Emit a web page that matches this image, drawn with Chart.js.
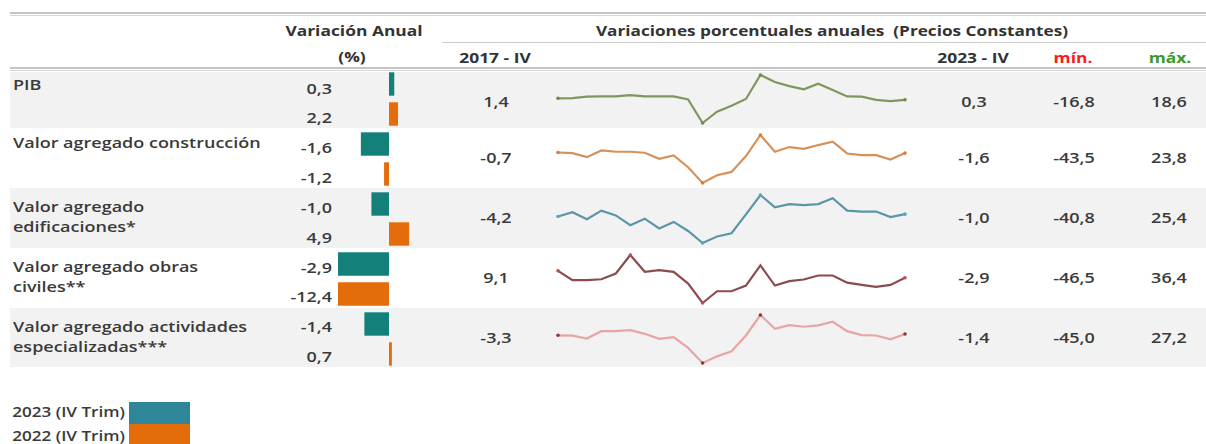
<!DOCTYPE html>
<html lang="es">
<head>
<meta charset="utf-8">
<title>Variaciones porcentuales anuales - construcción</title>
<script src="https://cdn.jsdelivr.net/npm/chart.js@4.4.1/dist/chart.umd.min.js"></script>
<style>
  html, body { margin: 0; padding: 0; background: #fff; }
  #page { position: relative; width: 1206px; height: 444px; overflow: hidden; font-family: "Open Sans", sans-serif; color: #3a3a3a; }
  .band { position: absolute; left: 10px; right: 0; }
  .gray { background: #f2f2f2; }
  .rule { position: absolute; left: 10px; right: 0; height: 1px; border-top: 2px solid #c4c4c4; border-bottom: 1px solid #d8d8d8; }
  .thin { position: absolute; left: 442px; right: 0; height: 0; border-top: 1.5px solid #c8c8c8; }
  .txt { position: absolute; white-space: pre; font-size: 15px; line-height: 20px; font-weight: 600; }
  .head { font-weight: 700; color: #333; }
  .swatch { position: absolute; left: 129px; width: 61px; height: 22px; }
  canvas { position: absolute; }
</style>
</head>
<body>
<div id="page"></div>

<script>
// ============================================================
// DONNÉES
// ============================================================

const categories = [
    "PIB",
    "Valor agregado construcción",
    "Valor agregado\nedificaciones*",
    "Valor agregado obras\nciviles**",
    "Valor agregado actividades\nespecializadas***"
];

// Variación anual (%) - IV trimestre
const var2023 = [0.3, -1.6, -1.0, -2.9, -1.4];
const var2022 = [2.2, -1.2, 4.9, -12.4, 0.7];

const quarters = [
    "2017-IV",
    "2018-I", "2018-II", "2018-III", "2018-IV",
    "2019-I", "2019-II", "2019-III", "2019-IV",
    "2020-I", "2020-II", "2020-III", "2020-IV",
    "2021-I", "2021-II", "2021-III", "2021-IV",
    "2022-I", "2022-II", "2022-III", "2022-IV",
    "2023-I", "2023-II", "2023-III", "2023-IV"
];

// Variaciones porcentuales anuales (precios constantes)
const serPIB = [1.4, 1.5, 2.6, 2.8, 2.8, 3.8, 2.8, 2.8, 2.8, 0.5, -16.8, -8.5, -4.0, 0.9, 18.6, 13.4, 10.4, 8.0, 12.2, 7.5, 2.8, 2.6, 0.3, -0.6, 0.3];
const serConstruccion = [-0.7, -1.6, -7.3, 2.2, 0.3, 0.3, -1.1, -9.6, -4.9, -21.4, -43.5, -32.7, -28.0, -5.8, 23.8, 0.3, 6.9, 4.5, 9.7, 14.4, -2.1, -4.4, -4.4, -10.5, -1.6];
const serEdificaciones = [-4.2, 1.7, -8.1, 3.9, -2.8, -16.2, -7.2, -20.7, -11.7, -24.2, -40.8, -31.8, -27.4, -1.4, 25.4, 8.4, 12.9, 11.5, 12.9, 20.9, 3.9, 2.6, 2.6, -5.0, -1.0];
const serObrasCiviles = [9.1, -7.0, -7.0, -5.5, 4.5, 36.4, 7.4, 10.3, 7.4, -12.9, -46.5, -26.2, -26.2, -16.4, 18.4, -16.4, -8.8, -5.9, 1.0, 1.0, -11.4, -15.2, -18.6, -15.2, -2.9];
const serEspecializadas = [-3.3, -3.8, -8.2, 2.9, 2.9, 4.5, -1.1, -8.7, -6.1, -22.3, -45.0, -35.0, -27.3, -3.6, 27.2, 6.5, 12.0, 9.5, 11.5, 17.1, 2.9, -3.1, -3.6, -9.5, -1.4];

const series = [serPIB, serConstruccion, serEdificaciones, serObrasCiviles, serEspecializadas];

const legendLabels = ["2023 (IV Trim)", "2022 (IV Trim)"];


// ============================================================
// MISE EN PAGE
// ============================================================

const page = document.getElementById("page");
const SX = 1.2;   // la police de l'original est plus large

const rowTops = [72, 128, 188, 248, 308];
const rowBottom = 367;
const sparkTops = [68, 128, 188, 248, 308];
const midY = [101, 157, 217, 277, 337];

const lineColors = ["#80965f", "#d6915a", "#5a96a5", "#8c4b50", "#e8a5a5"];
const markColors = ["#6f8a4c", "#e07a2e", "#4bacc6", "#c0504d", "#8b3a3a"];

const fmt = v => v.toFixed(1).replace(".", ",");

function addBox(cls, top, height) {
    const d = document.createElement("div");
    d.className = cls;
    d.style.top = top + "px";
    if (height !== undefined) d.style.height = height + "px";
    page.appendChild(d);
    return d;
}

function addText(txt, x, y, align, cls, color, sx) {
    const k = sx || SX;
    const d = document.createElement("div");
    d.className = "txt" + (cls ? " " + cls : "");
    d.textContent = txt;
    d.style.left = x + "px";
    d.style.top = (y - 10.5) + "px";
    if (align === "left") {
        d.style.transformOrigin = "left center";
        d.style.transform = `scaleX(${k})`;
    } else if (align === "right") {
        d.style.transformOrigin = "right center";
        d.style.transform = `translateX(-100%) scaleX(${k})`;
    } else {
        d.style.transformOrigin = "center center";
        d.style.transform = `translateX(-50%) scaleX(${k})`;
    }
    if (color) d.style.color = color;
    page.appendChild(d);
}

// bandes grises
rowTops.forEach((top, i) => {
    if (i % 2 === 0) {
        const bottom = i + 1 < rowTops.length ? rowTops[i + 1] : rowBottom;
        addBox("band gray", top, bottom - top);
    }
});

// filets
addBox("rule", 12);
addBox("rule", 67);
addBox("thin", 41.5);

// en-têtes
addText("Variación Anual", 354, 30, "center", "head", null, 1.16);
addText("(%)", 352, 56, "center", "head", null, 1.16);
addText("Variaciones porcentuales anuales  (Precios Constantes)", 832, 30, "center", "head", null, 1.145);
addText("2017 - IV", 495, 57, "center", "head", null, 1.16);
addText("2023 - IV", 973, 57, "center", "head", null, 1.16);
addText("mín.", 1073, 57, "center", "head", "#ff1a1a", 1.16);
addText("máx.", 1170, 57, "center", "head", "#3a9a2a", 1.16);

// libellés et valeurs
categories.forEach((cat, i) => {
    const lines = cat.split("\n");
    if (lines.length === 1) {
        addText(lines[0], 13, i === 0 ? 84 : rowTops[i] + 14, "left");
    } else {
        addText(lines[0], 13, rowTops[i] + 18.4, "left");
        addText(lines[1], 13, rowTops[i] + 38, "left");
    }

    addText(fmt(var2023[i]), 332, 88 + 29.85 * (2 * i), "right");
    addText(fmt(var2022[i]), 332, 88 + 29.85 * (2 * i + 1), "right");

    const s = series[i];
    addText(fmt(s[0]), 496, midY[i], "center");
    addText(fmt(s[s.length - 1]), 974, midY[i], "center");
    addText(fmt(Math.min(...s)), 1074, midY[i], "center");
    addText(fmt(Math.max(...s)), 1169, midY[i], "center");
});

// légende
addText(legendLabels[0], 125, 411, "right", null, null, 1.14);
addText(legendLabels[1], 125, 435, "right", null, null, 1.14);
addBox("swatch", 402).style.background = "#2e8698";
addBox("swatch", 424).style.background = "#e46c0a";


// ============================================================
// BARRES VARIACIÓN ANUAL
// ============================================================

function makeCanvas(left, top, width, height) {
    const c = document.createElement("canvas");
    c.width = width;
    c.height = height;
    c.style.left = left + "px";
    c.style.top = top + "px";
    page.appendChild(c);
    return c;
}

const max2023 = Math.max(...var2023.map(Math.abs));
const max2022 = Math.max(...var2022.map(Math.abs));

new Chart(makeCanvas(338, 69, 102, 300), {
    type: "bar",
    data: {
        labels: categories,
        datasets: [
            {
                label: legendLabels[0],
                data: var2023,
                backgroundColor: "#13807a",
                xAxisID: "x",
                categoryPercentage: 1,
                barPercentage: 0.78
            },
            {
                label: legendLabels[1],
                data: var2022,
                backgroundColor: "#e46c0a",
                xAxisID: "x2",
                categoryPercentage: 1,
                barPercentage: 0.78
            }
        ]
    },
    options: {
        indexAxis: "y",
        responsive: false,
        animation: false,
        layout: { padding: 0 },
        plugins: {
            legend: { display: false },
            tooltip: { enabled: false }
        },
        scales: {
            y: { display: false },
            // chaque série a sa propre échelle, comme dans l'original
            x: { type: "linear", display: false, min: -max2023, max: max2023 },
            x2: { type: "linear", display: false, min: -max2022, max: max2022 }
        }
    }
});


// ============================================================
// SPARKLINES
// ============================================================

series.forEach((s, i) => {
    const iMin = s.indexOf(Math.min(...s));
    const iMax = s.indexOf(Math.max(...s));
    const marks = [0, s.length - 1, iMin, iMax];

    new Chart(makeCanvas(550, sparkTops[i], 363, 60), {
        type: "line",
        data: {
            labels: quarters,
            datasets: [{
                data: s,
                borderColor: lineColors[i],
                borderWidth: 2.2,
                tension: 0,
                clip: false,
                pointRadius: ctx => marks.includes(ctx.dataIndex) ? 1.8 : 0,
                pointBackgroundColor: markColors[i],
                pointBorderWidth: 0
            }]
        },
        options: {
            responsive: false,
            animation: false,
            layout: { padding: { left: 8, right: 8, top: 7, bottom: 5 } },
            plugins: {
                legend: { display: false },
                tooltip: { enabled: false }
            },
            scales: {
                x: { display: false, offset: false },
                y: { display: false, min: Math.min(...s), max: Math.max(...s) }
            }
        }
    });
});
</script>
</body>
</html>
